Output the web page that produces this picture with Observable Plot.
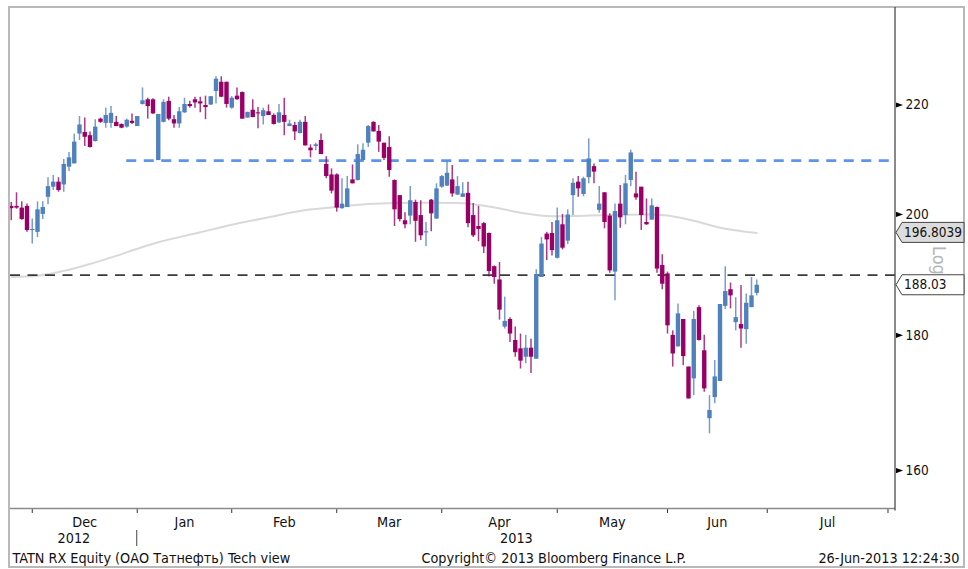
<!DOCTYPE html>
<html><head><meta charset="utf-8">
<script src="https://cdn.jsdelivr.net/npm/d3@7"></script>
<script src="https://cdn.jsdelivr.net/npm/@observablehq/plot@0.6"></script>
<style>
body{margin:0;background:#fff;}
#chart{position:relative;width:968px;height:569px;}
</style></head><body><div id="chart"></div>
<script>
// ---- data (trading sessions; index 0 = first session of Dec 2012) ----
const firstSession = -5;
const open  = [201.4,201.4,201.1,201.4,197.2,196.9,200.0,203.0,204.8,205.7,205.2,208.4,209.0,214.5,214.8,214.2,213.1,217.3,216.5,216.5,216.7,216.3,215.8,216.9,215.9,220.1,221.0,221.0,209.6,216.7,220.7,217.2,216.4,218.5,220.1,221.0,220.6,219.9,220.0,222.6,224.4,224.4,219.4,221.7,222.4,217.5,219.0,218.5,217.8,218.7,218.0,216.6,218.0,215.9,216.1,214.6,216.7,211.9,212.2,213.3,208.9,207.0,207.0,201.0,201.2,206.1,206.0,209.6,212.8,216.7,215.0,212.8,212.0,206.0,203.3,198.9,199.7,202.1,199.8,196.8,202.5,199.2,204.8,205.0,206.1,203.4,203.0,203.7,199.8,197.9,198.4,196.7,191.1,188.9,181.3,182.5,179.2,177.9,176.6,178.0,176.3,189.3,196.6,196.7,192.5,198.2,195.4,203.3,205.7,203.5,206.5,208.5,200.7,203.8,199.7,190.2,201.8,199.8,206.0,203.6,204.8,198.6,199.0,201.2,191.3,189.9,180.0,178.2,182.5,175.1,173.3,184.4,177.6,167.4,170.5,172.9,184.6,187.3,182.0,181.7,180.9,184.4,186.7];
const high  = [202.1,203.8,202.2,201.8,199.2,202.2,202.2,206.5,206.9,206.5,209.8,211.1,214.5,217.8,217.5,214.9,217.2,217.5,219.4,219.7,217.8,216.4,217.3,218.3,217.8,223.3,221.3,221.2,218.2,221.0,221.5,218.0,219.5,221.3,220.7,221.5,221.5,221.7,221.6,225.5,225.5,224.4,221.6,223.3,222.5,218.6,221.0,219.5,219.4,220.0,218.3,220.1,221.3,217.1,216.7,217.1,217.8,212.5,212.8,214.5,210.3,208.1,207.2,206.3,206.7,208.8,212.5,212.7,216.1,216.8,216.1,212.8,214.0,206.1,203.3,200.3,204.9,202.5,202.4,198.6,202.6,205.4,206.9,209.5,208.7,206.7,205.6,205.7,201.9,201.4,198.6,196.8,191.2,191.8,186.1,182.8,181.3,180.2,180.0,179.4,190.6,196.0,196.9,198.6,201.1,200.0,200.8,206.3,206.7,206.6,213.6,209.0,204.9,203.8,200.1,201.8,205.1,206.9,211.5,207.5,204.8,202.7,202.7,201.3,193.1,190.2,180.7,185.0,182.5,175.1,183.8,184.7,180.0,170.8,176.1,184.9,191.1,188.4,186.0,188.0,186.6,189.3,188.9];
const low   = [198.9,200.9,199.0,196.9,194.9,196.0,199.1,201.7,204.2,203.9,203.9,207.6,209.0,213.3,212.2,211.9,213.0,216.5,215.6,215.6,215.9,215.5,215.6,216.3,215.9,220.0,217.3,218.2,209.6,216.6,217.0,215.6,215.6,218.4,219.4,219.4,218.5,217.2,219.9,220.2,221.4,219.4,219.2,220.9,217.3,217.5,217.6,215.5,216.2,218.0,216.2,216.5,214.2,215.9,213.3,214.5,212.3,210.1,211.4,210.7,206.3,203.6,200.4,200.9,201.2,205.4,205.9,209.5,212.0,214.9,211.1,209.6,206.6,197.9,198.7,197.5,198.2,195.2,195.5,194.5,197.0,199.1,204.6,204.9,203.0,203.3,203.0,197.7,196.0,195.3,193.3,189.4,188.2,182.4,181.0,178.9,176.6,174.8,175.6,174.1,176.3,189.3,192.1,192.9,192.4,193.9,194.8,199.8,203.0,203.1,205.4,205.4,200.2,197.5,190.0,185.5,197.6,198.2,204.9,202.5,197.2,198.1,199.0,190.0,187.3,180.2,175.1,178.2,175.3,170.3,170.8,179.1,171.3,165.2,169.6,172.9,184.1,184.2,180.7,178.0,178.6,184.4,186.3];
const close = [201.0,201.1,199.1,197.2,197.4,200.8,201.2,204.9,205.7,204.2,208.9,210.1,213.0,216.2,213.9,212.0,215.8,216.7,218.0,218.4,215.9,215.6,217.1,216.5,217.8,220.8,219.7,218.3,218.2,220.5,217.3,216.4,218.7,220.1,219.7,220.4,220.2,219.5,221.6,225.0,221.5,220.1,221.3,221.0,217.3,218.6,217.6,218.3,218.9,218.0,216.3,218.5,216.7,216.4,214.9,216.7,212.3,211.4,212.5,210.7,206.7,204.1,201.1,201.8,204.5,205.4,210.7,211.5,215.9,214.9,213.0,210.0,207.8,200.8,199.1,198.2,202.4,198.8,196.3,197.0,200.1,204.5,206.7,207.3,203.6,204.9,203.6,198.4,196.3,197.4,194.4,190.3,189.3,184.0,182.2,180.2,177.3,176.0,178.0,176.6,189.8,194.9,195.6,193.8,198.9,194.2,199.9,205.5,204.5,206.3,209.9,207.5,201.8,198.6,190.4,200.5,199.4,205.4,211.0,202.9,199.8,198.2,201.5,190.7,188.2,181.5,177.1,183.4,176.7,170.3,182.5,179.2,171.8,168.6,173.6,184.9,187.0,186.3,182.8,181.0,185.1,186.3,188.03];

// moving average (read at sample sessions)
const maSession = [-5,0,5,9,15,18,23,31,37,44,50,56,63,68,75,80,86,92,98,105,111,117,120,125,130,137];
const maValue   = [189.4,189.6,190.4,191.3,192.9,193.8,195.2,196.9,198.2,199.5,200.6,201.2,201.8,202.0,202.05,202.0,201.4,200.3,199.7,199.8,199.95,200.0,199.8,198.9,197.7,196.8039];

// horizontal levels
const levelValue = [209.6, 189.7];
const levelFrom  = [17, -5.14];
const levelKind  = ["resistance", "support"];

// axes
const yTicks = [160, 180, 200, 220];
const monthNames = ["Dec","Jan","Feb","Mar","Apr","May","Jun","Jul"];
const monthFirstSession = [0,20,38,58,78,100,121,140,163];
const yearNames = ["2012","2013"];
const yearBoundarySession = 19;

const lastClose = 188.03;
const maLast = 196.8039;
const footerLeft = "TATN RX Equity (ОАО Татнефть) Tech view";
const footerMid = "Copyright© 2013 Bloomberg Finance L.P.";
const footerRight = "26-Jun-2013 12:24:30";

// ---- build ----
const BLUE = "#4f81bd", MAG = "#990066";
const xDomain = [-5.143, 163.43];
const candles = open.map((o, k) => ({i: k + firstSession, open: o, high: high[k], low: low[k], close: close[k]}));
const col = d => d.close >= d.open ? BLUE : MAG;
const ma = maSession.map((s, k) => ({i: s, v: maValue[k]}));
const levels = levelValue.map((v, k) => ({v, from: levelFrom[k], to: xDomain[1], kind: levelKind[k]}));
const monthTicks = monthFirstSession.map(s => s - 1);
const months = monthNames.map((n, k) => ({name: n, c: (monthTicks[k] + monthTicks[k + 1]) / 2}));
const years = [
  {name: yearNames[0], c: (xDomain[0] + yearBoundarySession) / 2},
  {name: yearNames[1], c: (yearBoundarySession + xDomain[1]) / 2}
];
const FONT = "'DejaVu Sans Condensed','DejaVu Sans',sans-serif";
const triangle = {draw(ctx) { ctx.moveTo(-3.5, -2.6); ctx.lineTo(3.5, 0); ctx.lineTo(-3.5, 2.6); ctx.closePath(); }};
const FS = 14.3;

const plot = Plot.plot({
  width: 968, height: 569,
  marginLeft: 10, marginRight: 73, marginTop: 7, marginBottom: 61,
  x: {domain: xDomain, axis: null},
  y: {type: "log", domain: [154.8, 239.5], axis: null},
  style: {fontFamily: FONT, fontSize: "13px", background: "white", color: "#111"},
  marks: [
    Plot.line(ma, {x: "i", y: "v", stroke: "#d9d9d9", strokeWidth: 2, curve: "monotone-x"}),
    Plot.ruleY(levels.filter(d => d.kind === "support"), {y: "v", x1: "from", x2: "to", stroke: "#3a3a3a", strokeWidth: 1.8, strokeDasharray: "10,7.5"}),
    Plot.ruleY(levels.filter(d => d.kind === "resistance"), {y: "v", x1: "from", x2: "to", stroke: "#5f93ec", strokeWidth: 2.6, strokeDasharray: "10,7.5"}),
    Plot.ruleX(candles, {x: "i", y1: "low", y2: "high", stroke: col, strokeWidth: 1.5, strokeOpacity: 0.78}),
    Plot.ruleX(candles, {x: "i", y1: "open", y2: "close", stroke: col, strokeWidth: 4.4}),
    Plot.axisY({anchor: "right", ticks: yTicks, tickSize: 0, tickPadding: 10, fontSize: 13.5}),
    Plot.dot(yTicks, {y: d => d, frameAnchor: "right", dx: 4, symbol: triangle, fill: "black", stroke: null}),
    Plot.axisX({ticks: monthTicks, tickSize: 5, tickFormat: () => "", stroke: "#333"}),
    Plot.text(months, {x: "c", text: "name", frameAnchor: "bottom", lineAnchor: "middle", dy: 13.5, fontSize: FS}),
    Plot.text(years, {x: "c", text: "name", frameAnchor: "bottom", lineAnchor: "middle", dy: 30, fontSize: FS}),
    Plot.text([footerLeft], {text: d => d, frameAnchor: "bottom-left", lineAnchor: "middle", dx: 2, dy: 49.5, textAnchor: "start", fontSize: FS}),
    Plot.text([footerMid], {text: d => d, frameAnchor: "bottom-left", lineAnchor: "middle", dx: 411, dy: 49.5, textAnchor: "start", fontSize: FS}),
    Plot.text([footerRight], {text: d => d, frameAnchor: "bottom-right", lineAnchor: "middle", dx: 64, dy: 49.5, textAnchor: "end", fontSize: FS})
  ]
});
document.getElementById("chart").appendChild(plot);

// ---- decorations using the plot's scales ----
const ysc = plot.scale("y"), xsc = plot.scale("x");
const Y = ysc.apply ? v => ysc.apply(v) : d3.scaleLog(ysc.domain, ysc.range);
const X = xsc.apply ? v => xsc.apply(v) : d3.scaleLinear(xsc.domain, xsc.range);
const svg = d3.select(plot);
const L = 10, R = 895, T = 7, B = 508.5;
const g = svg.append("g").attr("text-anchor", "start");
// outer border
g.append("path").attr("d", `M9,567V7H964V567H9Z`).attr("fill", "none").attr("stroke", "#b9b9b9").attr("stroke-width", 2);
// plot bottom line
g.append("line").attr("x1", L).attr("x2", R).attr("y1", B).attr("y2", B).attr("stroke", "#8a8a8a").attr("stroke-width", 1.5);
// right axis line
g.append("line").attr("x1", R).attr("x2", R).attr("y1", T).attr("y2", B + 2).attr("stroke", "#4a4a4a").attr("stroke-width", 1.3);
// year separator
const xs = X(yearBoundarySession);
g.append("line").attr("x1", xs).attr("x2", xs).attr("y1", 530).attr("y2", 546).attr("stroke", "#444").attr("stroke-width", 1);
// watermark
g.append("text").attr("transform", "translate(933,246) rotate(90)").attr("font-size", 18).attr("fill", "#b5b5b5").attr("font-family", FONT).text("Log");
// value tags
function tag(v, txt, fill) {
  const y = Y(v);
  g.append("path").attr("d", `M${R + 1},${y} L${R + 7},${y - 10} H964 V${y + 10} H${R + 7} Z`)
    .attr("fill", fill).attr("stroke", "#444").attr("stroke-width", 1);
  g.append("text").attr("x", R + 9).attr("y", y).attr("dy", "0.35em").attr("font-size", 13.5)
    .attr("font-family", FONT).attr("fill", "#111").text(txt);
}
tag(maLast, String(maLast), "#dcdcdc");
tag(lastClose, lastClose.toFixed(2), "#ffffff");
</script></body></html>
